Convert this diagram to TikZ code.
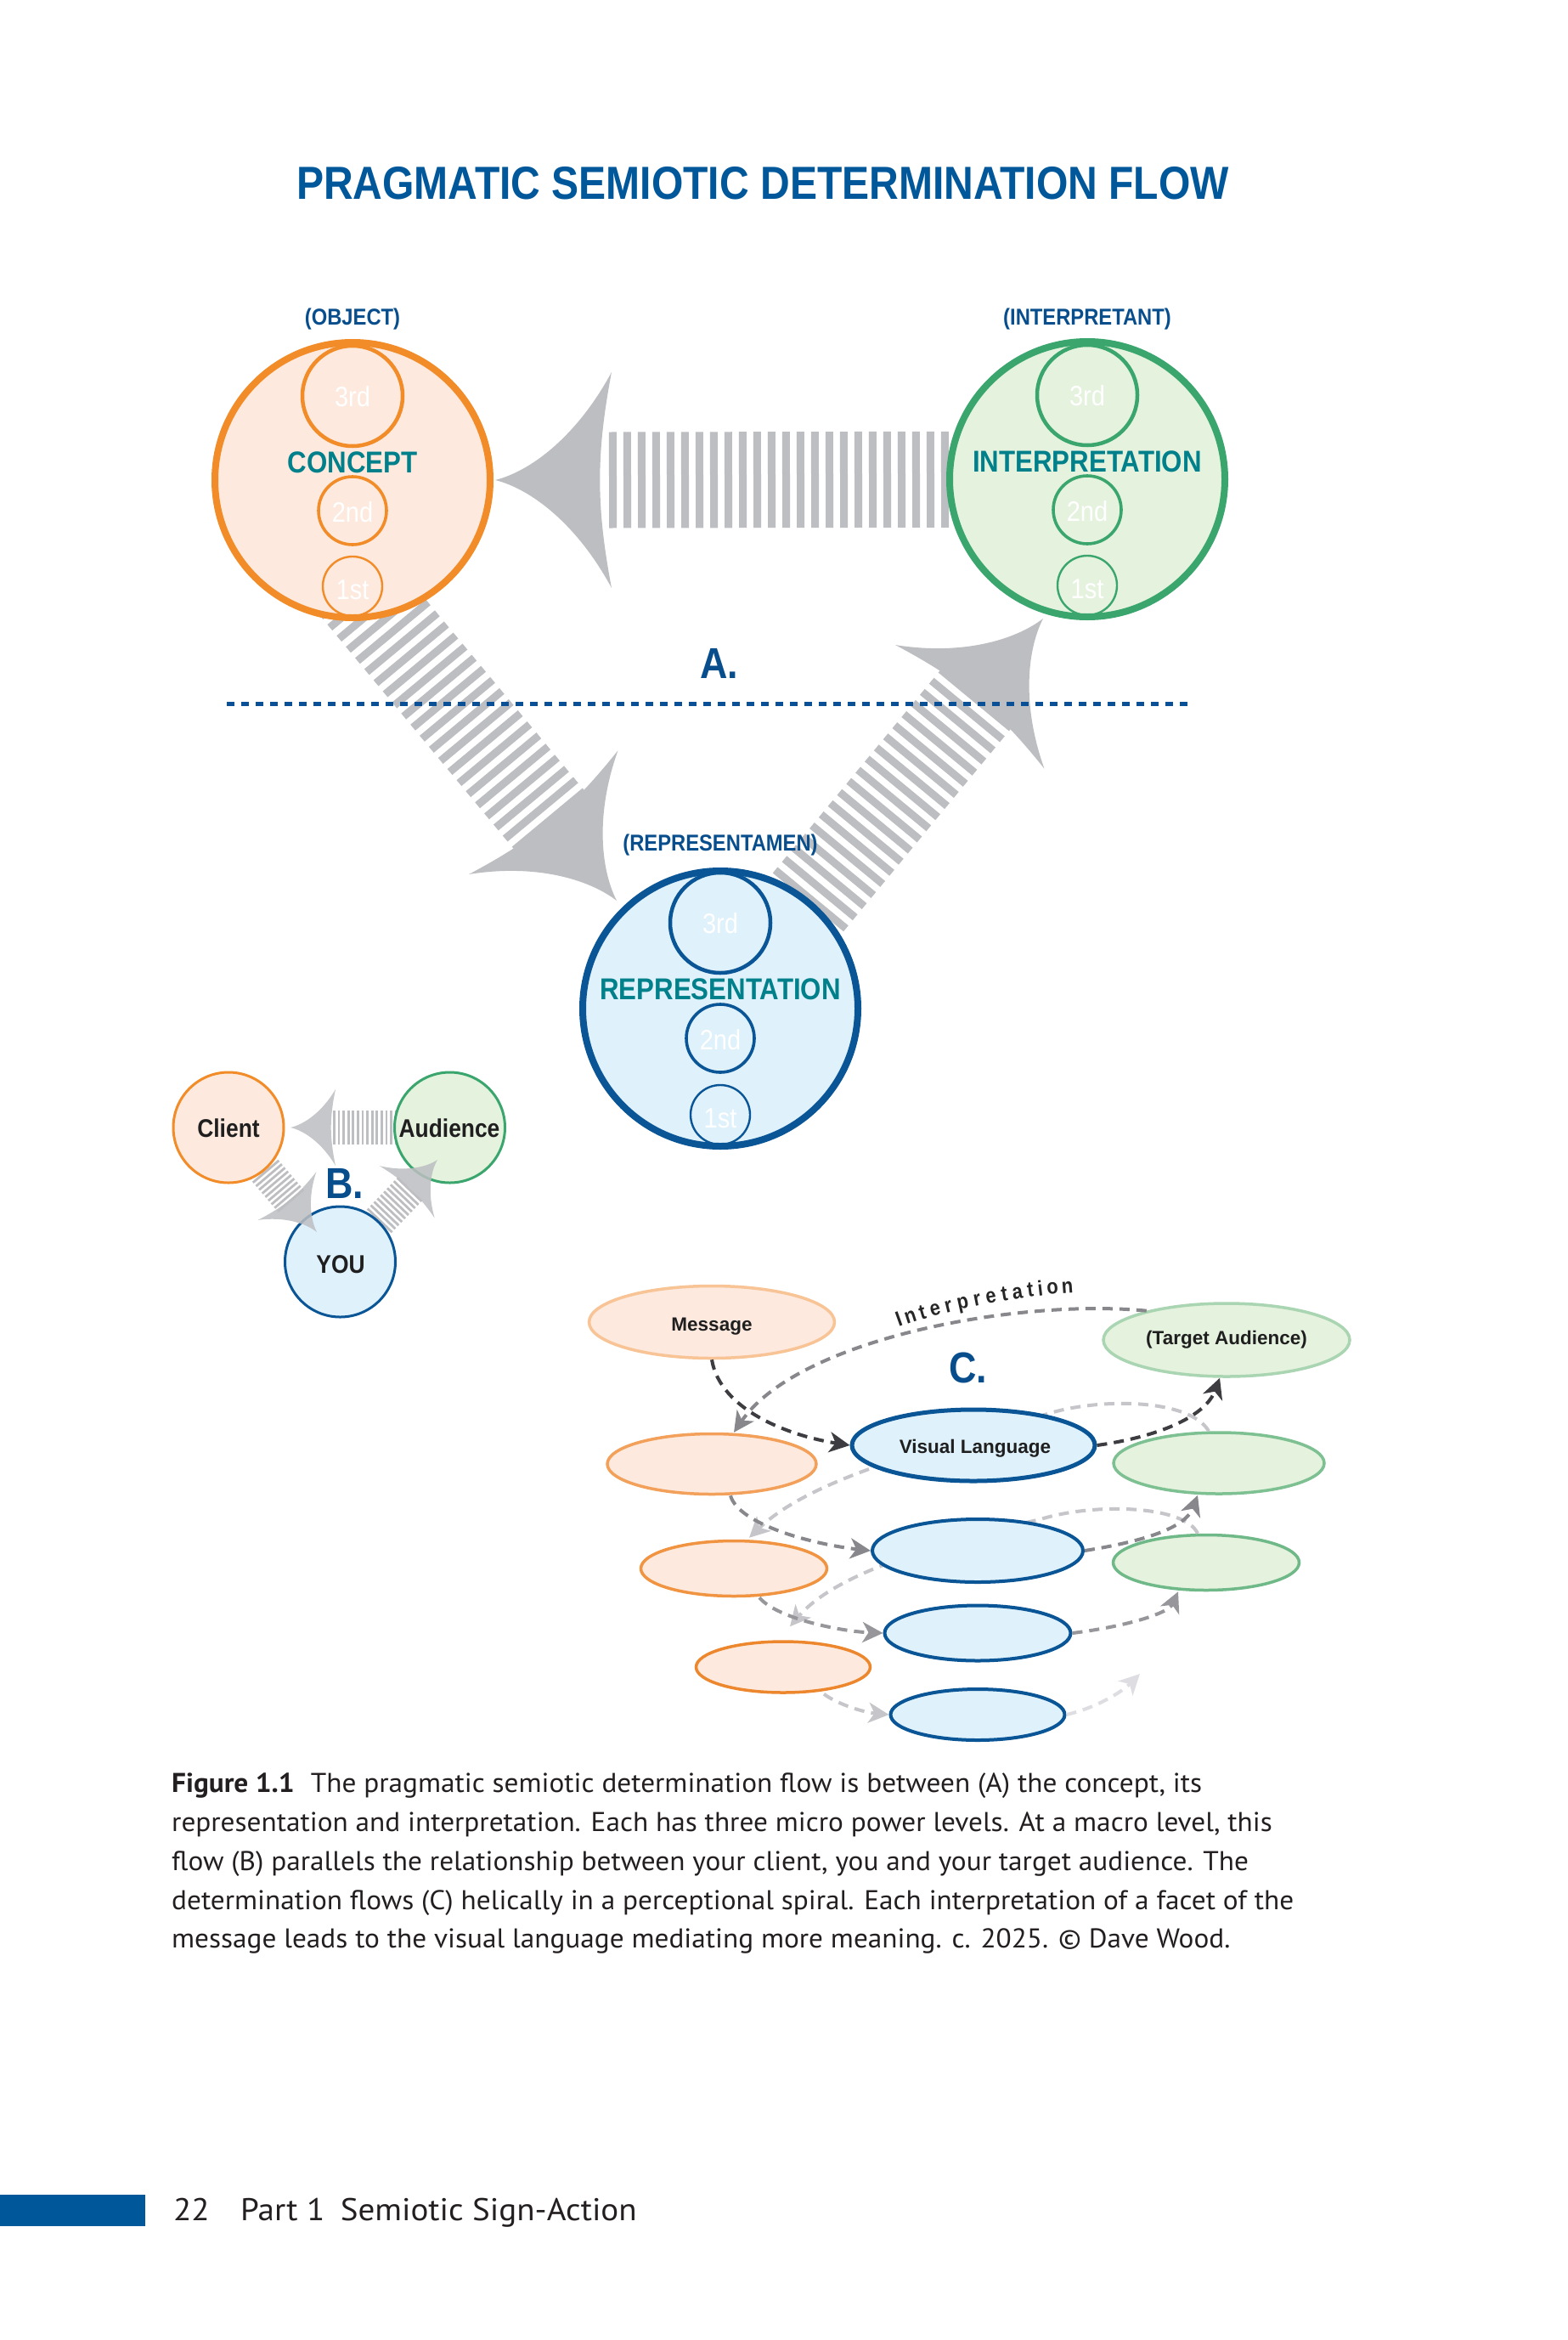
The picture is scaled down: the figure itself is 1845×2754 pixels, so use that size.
\documentclass[tikz,border=0pt]{standalone}
\usepackage{fontspec}
\setmainfont{Liberation Sans}
\newfontfamily\rb[FakeStretch=0.88]{Liberation Sans}
\newfontfamily\ptsans[FakeStretch=1.04]{PT Sans}
\newfontfamily\ptfoot[FakeStretch=1.055]{PT Sans}
\usetikzlibrary{arrows.meta,shapes.geometric}
\definecolor{titleblue}{RGB}{0,88,155}
\definecolor{labblue}{RGB}{8,78,140}
\definecolor{headteal}{RGB}{0,128,138}
\definecolor{orline}{RGB}{242,140,40}
\definecolor{orfill}{RGB}{253,233,222}
\definecolor{grline}{RGB}{58,166,110}
\definecolor{grfill}{RGB}{229,242,222}
\definecolor{blline}{RGB}{10,85,150}
\definecolor{blfill}{RGB}{223,241,251}
\definecolor{arrgray}{RGB}{189,190,193}
\definecolor{dashblue}{RGB}{10,80,150}
\definecolor{captext}{RGB}{35,31,32}
\definecolor{msgline}{RGB}{248,196,150}
\definecolor{otwoline}{RGB}{242,160,90}
\definecolor{othreeline}{RGB}{240,148,65}
\definecolor{ofourline}{RGB}{236,135,45}
\definecolor{taline}{RGB}{170,213,178}
\definecolor{gtwoline}{RGB}{125,192,145}
\definecolor{gthreeline}{RGB}{110,185,135}
\definecolor{flowdark}{RGB}{60,60,65}
\definecolor{flowmid}{RGB}{135,135,140}
\definecolor{flowmidb}{RGB}{150,150,155}
\definecolor{flowlight}{RGB}{198,198,202}
\definecolor{flowfaint}{RGB}{222,222,226}
\newcommand\fathead[6]{%
  \fill[arrgray,fill opacity=#6,shift={(#1,#2)},rotate=#3,xscale=#4,yscale=#5]
    (0,0) .. controls (-0.30,0.08) and (-0.70,0.40) .. (-1,1)
    .. controls (-0.93,0.6) and (-0.9,0.3) .. (-0.9,0)
    .. controls (-0.9,-0.3) and (-0.93,-0.6) .. (-1,-1)
    .. controls (-0.70,-0.40) and (-0.30,-0.08) .. (0,0) -- cycle;}
\begin{document}
\begin{tikzpicture}[x=1pt,y=-1pt,
  bigc/.style={circle,inner sep=0pt,minimum size=324pt,line width=8pt},
  lvthree/.style={circle,inner sep=0pt,minimum size=118pt,line width=4.5pt},
  lvtwo/.style={circle,inner sep=0pt,minimum size=80pt,line width=3.6pt},
  lvone/.style={circle,inner sep=0pt,minimum size=70pt,line width=2.4pt},
  lvtext/.style={font={\rb\fontsize{33}{33}\selectfont},text=white,anchor=base,inner sep=0pt},
  headtext/.style={font={\rb\bfseries\fontsize{35.5}{36}\selectfont},text=headteal,anchor=base,inner sep=0pt},
  roletext/.style={font={\rb\bfseries\fontsize{27}{28}\selectfont},text=labblue,anchor=base,inner sep=0pt},
  sectext/.style={font={\rb\bfseries\fontsize{51}{52}\selectfont},text=labblue,anchor=base,inner sep=0pt},
  shaftA/.style={draw=arrgray,line width=110pt,dash pattern=on 9pt off 8pt},
  shaftB/.style={draw=arrgray,line width=40pt,dash pattern=on 2.8pt off 2.8pt},
  smallc/.style={circle,inner sep=0pt,minimum size=130pt,line width=3pt},
  btext/.style={font={\rb\bfseries\fontsize{30}{30}\selectfont},text=black!88,anchor=base,inner sep=0pt},
  ell/.style={ellipse,inner sep=0pt,line width=3.5pt},
  ctext/.style={font={\bfseries\fontsize{22.5}{23}\selectfont},text=black!88,anchor=base,inner sep=0pt},
  flow/.style={line width=4pt,dash pattern=on 12pt off 8pt,-{Stealth[length=24pt,width=24pt,inset=7pt]}},
  ilett/.style={font={\rb\bfseries\fontsize{25}{25}\selectfont},text=black!85,anchor=base,inner sep=0pt,sloped},
  capline/.style={font={\ptsans\fontsize{32}{33}\selectfont},text=captext,anchor=base west,inner sep=0pt},
  foot/.style={font={\ptfoot\fontsize{37}{37}\selectfont},text=captext,anchor=base west,inner sep=0pt},
]
\useasboundingbox (0,0) rectangle (1845,2754);
\fill[white] (0,0) rectangle (1845,2754);

% ---------- title
\node[font={\rb\bfseries\fontsize{54.6}{56}\selectfont},text=titleblue,anchor=base,inner sep=0pt] (title) at (898,234) {PRAGMATIC SEMIOTIC DETERMINATION FLOW};

% ---------- A: centres and shafts
\coordinate (conceptC) at (415,565);
\coordinate (interpC) at (1280,564);
\coordinate (repC) at (848,1187);
\coordinate (topback) at (717,565);
\coordinate (lback) at (650,969);
\coordinate (lfoot) at (413.6,684.5);
\coordinate (rback) at (1152,819);
\draw[shaftA,line width=113pt] (topback) -- (interpC);
\draw[shaftA,line width=108pt] (lback) -- (lfoot);
\draw[shaftA,line width=108pt] (rback) -- (repC);

% ---------- role labels (over the shafts)
\node[roletext] (objlbl) at (415,382) {(OBJECT)};
\node[roletext] (intlbl) at (1280,382) {(INTERPRETANT)};
\node[roletext] (replbl) at (848,1001) {(REPRESENTAMEN)};

% ---------- A: circles
\node[bigc,draw=orline,fill=orfill] (concept) at (conceptC) {};
\node[lvthree,draw=orline] (conthree) at (415,466) {};
\node[lvtwo,draw=orline] (contwo) at (415,601) {};
\node[lvone,draw=orline] (conone) at (415,690) {};
\node[lvtext] (conthreet) at (415,478) {3rd};
\node[lvtext] (contwot) at (415,614) {2nd};
\node[lvtext] (cononet) at (415,705) {1st};
\node[headtext] (conlbl) at (415,556) {CONCEPT};

\node[bigc,draw=grline,fill=grfill] (interp) at (interpC) {};
\node[lvthree,draw=grline] (intthree) at (1280,465) {};
\node[lvtwo,draw=grline] (inttwo) at (1280,600) {};
\node[lvone,draw=grline] (intone) at (1280,689) {};
\node[lvtext] (intthreet) at (1280,477) {3rd};
\node[lvtext] (inttwot) at (1280,613) {2nd};
\node[lvtext] (intonet) at (1280,704) {1st};
\node[headtext] (intlbltxt) at (1280,555) {INTERPRETATION};

\node[bigc,draw=blline,fill=blfill] (rep) at (repC) {};
\node[lvthree,draw=blline] (repthree) at (848,1086) {};
\node[lvtwo,draw=blline] (reptwo) at (848,1222) {};
\node[lvone,draw=blline] (repone) at (848,1312) {};
\node[lvtext] (repthreet) at (848,1098) {3rd};
\node[lvtext] (reptwot) at (848,1235) {2nd};
\node[lvtext] (reponet) at (848,1327) {1st};
\node[headtext] (replbltxt) at (848,1176) {REPRESENTATION};

% ---------- A: heads
\fathead{583}{565}{180}{137}{127}{1}
\fathead{726}{1060}{-50.3}{135}{114}{1}
\fathead{1228}{728}{50.3}{135}{114}{1}

% ---------- dashed divider and A.
\coordinate (dleft) at (267,828);
\coordinate (dright) at (1400,828);
\draw[dashblue,line width=5pt,dash pattern=on 9pt off 8pt] (dleft) -- (dright);
\node[sectext] (alab) at (847,798) {A.};

% ---------- B
\coordinate (clientC) at (269,1327);
\coordinate (audC) at (529.5,1327);
\coordinate (youC) at (400.5,1485);
\coordinate (btopback) at (392,1327);
\coordinate (bleftback) at (343,1414);
\coordinate (brightback) at (483,1399);
\draw[shaftB] (btopback) -- (audC);
\draw[shaftB] (bleftback) -- (clientC);
\draw[shaftB] (brightback) -- (youC);
\node[smallc,draw=orline,fill=orfill] (client) at (clientC) {};
\node[smallc,draw=grline,fill=grfill] (aud) at (audC) {};
\node[smallc,draw=blline,fill=blfill] (you) at (youC) {};
\fathead{342}{1327}{180}{53}{45}{0.85}
\fathead{373}{1450}{-50.5}{55}{44.5}{0.85}
\fathead{515}{1365}{46.6}{52}{44.6}{0.85}
\node[btext] (clientt) at (269,1338) {Client};
\node[btext] (audt) at (529,1338) {Audience};
\node[btext] (yout) at (401,1498) {YOU};
\node[sectext] (blab) at (406,1410) {B.};

% ---------- C: ellipses (those behind the back arcs first)
\node[ell,draw=msgline,fill=orfill,minimum width=289pt,minimum height=85pt] (msg) at (838,1556) {};
\node[ell,draw=taline,fill=grfill,minimum width=290pt,minimum height=86pt] (ta) at (1444,1577) {};
\node[ell,draw=otwoline,fill=orfill,minimum width=246pt,minimum height=71pt] (otwo) at (838,1723) {};
\node[ell,draw=gtwoline,fill=grfill,minimum width=248pt,minimum height=72pt] (gtwo) at (1435,1722) {};
\node[ell,draw=othreeline,fill=orfill,minimum width=219pt,minimum height=65pt] (othree) at (864,1846) {};
\node[ell,draw=gthreeline,fill=grfill,minimum width=219pt,minimum height=65pt] (gthree) at (1420,1839) {};
\node[ell,draw=ofourline,fill=orfill,minimum width=205pt,minimum height=60pt] (ofour) at (922,1962) {};
\node[ell,draw=blline,fill=blfill,line width=4pt,minimum width=219pt,minimum height=65pt] (bthree) at (1151,1922) {};
\node[ell,draw=blline,fill=blfill,line width=4pt,minimum width=205pt,minimum height=60pt] (bfour) at (1151,2018) {};

% back arcs (pass behind the blue ellipses)
\draw[flow,flowlight] ([xshift=-12pt]gtwo.north) .. controls (1400,1645) and (1290,1645) .. (1230,1665)
  .. controls (1120,1700) and (960,1735) .. ([xshift=18pt,yshift=2pt]othree.north);
\draw[flow,flowlight] ([xshift=-10pt]gthree.north) .. controls (1395,1772) and (1290,1768) .. (1225,1788)
  .. controls (1110,1815) and (985,1850) .. ([xshift=8pt,yshift=16pt]ofour.north);

\node[ell,draw=blline,fill=blfill,line width=5pt,minimum width=286pt,minimum height=84pt] (vl) at (1146,1701) {};
\node[ell,draw=blline,fill=blfill,line width=4pt,minimum width=248pt,minimum height=74pt] (btwo) at (1151,1825) {};

\node[ctext] (msgt) at (838,1566) {Message};
\node[ctext] (tat) at (1444,1582) {(Target Audience)};
\node[ctext] (vlt) at (1148,1710) {Visual Language};
\node[sectext] (clab) at (1140,1627) {C.};

% front flows
\draw[flow,flowdark] (msg.south) .. controls (848,1660) and (930,1690) .. (vl.west);
\draw[flow,flowdark] (vl.east) .. controls (1370,1690) and (1420,1665) .. ([xshift=-8pt]ta.south);
\draw[flow,flowmid] (ta.160) .. controls (1200,1528) and (940,1575) .. ([xshift=26pt]otwo.north);
\draw[flow,flowmid] ([xshift=22pt]otwo.south) .. controls (870,1795) and (960,1818) .. (btwo.west);
\draw[flow,flowmid] (btwo.east) .. controls (1340,1815) and (1395,1800) .. ([xshift=-25pt]gtwo.south);
\draw[flow,flowmidb] ([xshift=30pt]othree.south) .. controls (915,1905) and (990,1920) .. (bthree.west);
\draw[flow,flowmidb] (bthree.east) .. controls (1320,1915) and (1375,1900) .. ([xshift=-33pt]gthree.south);
\draw[flow,flowlight] ([xshift=48pt]ofour.south) .. controls (985,2005) and (1015,2015) .. (bfour.west);
\coordinate (bfourend) at (1342,1970);
\draw[flow,flowfaint] (bfour.east) .. controls (1290,2010) and (1320,1992) .. (bfourend);

% Interpretation label along the arc
\path (1058,1562) .. controls (1118,1540) and (1208,1524) .. (1268,1521)
  node[ilett,pos=0.016] (ila) {I}
  node[ilett,pos=0.085] (ilb) {n}
  node[ilett,pos=0.157] (ilc) {t}
  node[ilett,pos=0.227] (ild) {e}
  node[ilett,pos=0.299] (ile) {r}
  node[ilett,pos=0.375] (ilf) {p}
  node[ilett,pos=0.450] (ilg) {r}
  node[ilett,pos=0.522] (ilh) {e}
  node[ilett,pos=0.592] (ili) {t}
  node[ilett,pos=0.661] (ilj) {a}
  node[ilett,pos=0.730] (ilk) {t}
  node[ilett,pos=0.784] (ill) {i}
  node[ilett,pos=0.853] (ilm) {o}
  node[ilett,pos=0.941] (iln) {n};

% ---------- caption
\node[capline] (capa) at (202,2109) {\textbf{Figure 1.1}\hspace{0.6em}The pragmatic semiotic determination flow is between (A) the concept, its};
\node[capline] (capb) at (202,2155) {representation and interpretation. Each has three micro power levels. At a macro level, this};
\node[capline] (capc) at (202,2201) {flow (B) parallels the relationship between your client, you and your target audience. The};
\node[capline] (capd) at (202,2247) {determination flows (C) helically in a perceptional spiral. Each interpretation of a facet of the};
\node[capline] (cape) at (202,2292) {message leads to the visual language mediating more meaning. c. 2025. © Dave Wood.};

% ---------- footer
\fill[titleblue] (0,2583) rectangle (171,2620);
\node[foot] (pgnum) at (204,2613) {22};
\node[foot] (runhead) at (283,2613) {Part 1\enspace Semiotic Sign-Action};
\end{tikzpicture}
\end{document}
